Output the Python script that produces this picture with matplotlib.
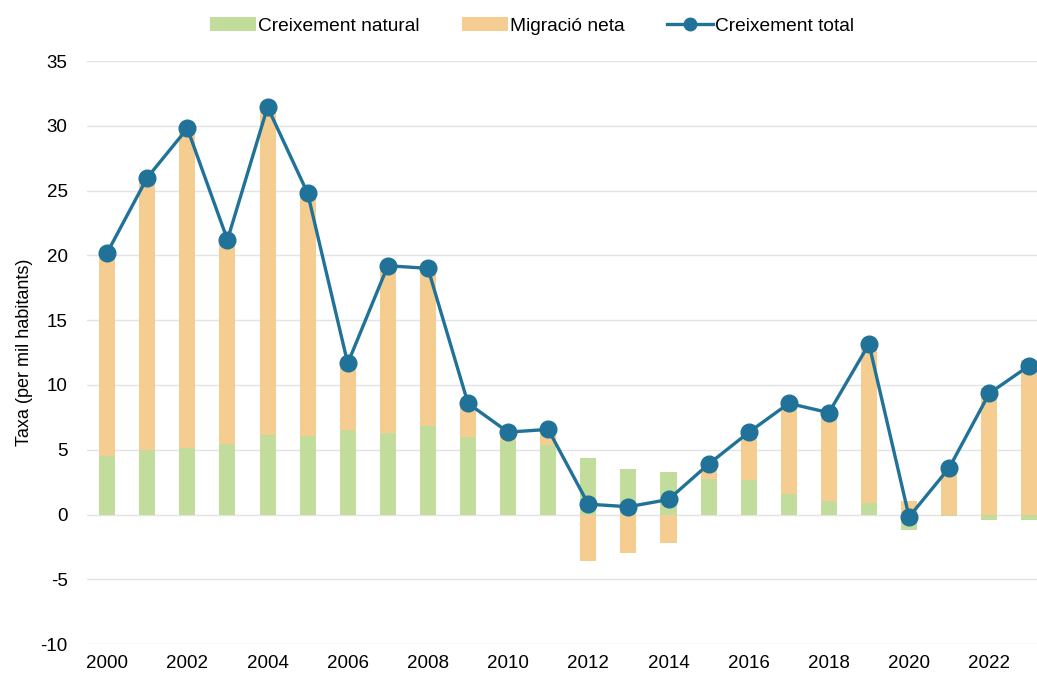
import numpy as np
import matplotlib.pyplot as plt

plt.rcParams['font.family'] = ['Liberation Sans', 'DejaVu Sans']
plt.rcParams['axes.unicode_minus'] = False

years = np.arange(2000, 2024)
natural = [4.5, 5.0, 5.15, 5.43, 6.15, 6.07, 6.5, 6.3, 6.82, 5.95, 5.69, 5.38,
           4.35, 3.55, 3.27, 2.75, 2.7, 1.62, 1.03, 0.87, -1.19, -0.1, -0.46, -0.46]
migration = [15.7, 21.0, 24.65, 15.77, 25.3, 18.73, 5.17, 12.9, 12.18, 2.63, 0.67, 1.19,
             -3.58, -2.94, -2.17, 1.14, 3.64, 6.96, 6.83, 12.29, 1.03, 3.7, 9.8, 11.95]
total = [20.2, 26.0, 29.8, 21.2, 31.45, 24.8, 11.67, 19.2, 19.0, 8.58, 6.36, 6.57,
         0.8, 0.6, 1.16, 3.89, 6.34, 8.58, 7.86, 13.16, -0.18, 3.6, 9.35, 11.5]

c_green = '#C1DC9B'
c_orange = '#F5CD91'
c_blue = '#217298'

fig = plt.figure(figsize=(10.37, 6.78), dpi=100)
ax = fig.add_axes([0.084, 0.05, 0.916, 0.86])

nat = np.array(natural)
mig = np.array(migration)
# stack positives on positives and negatives on negatives
mig_bottom = np.where(mig >= 0, np.maximum(nat, 0), np.minimum(nat, 0))

b1 = ax.bar(years, nat, width=0.4, color=c_green, label='Creixement natural', zorder=2)
b2 = ax.bar(years, mig, width=0.4, bottom=mig_bottom, color=c_orange, label='Migració neta', zorder=2)
l1, = ax.plot(years, total, color=c_blue, lw=2.4, marker='o', ms=12, label='Creixement total', zorder=3)

ax.set_ylim(-10, 35)
ax.set_yticks(np.arange(-10, 36, 5))
ax.set_xlim(1999.5, 2023.19)
ax.set_xticks(np.arange(2000, 2023, 2))
ax.grid(axis='y', color='#E3E3E3', lw=1, zorder=0)
ax.set_axisbelow(True)
for s in ax.spines.values():
    s.set_visible(False)
ax.tick_params(length=0, labelsize=13.5, colors='black')
ax.tick_params(axis='y', pad=14)
ax.tick_params(axis='x', pad=8)
ax.set_ylabel('Taxa (per mil habitants)', fontsize=13, labelpad=5)

fig.legend([b1, b2, l1], ['Creixement natural', 'Migració neta', 'Creixement total'],
           loc='upper center', bbox_to_anchor=(0.513, 1.0), ncol=3, frameon=False,
           fontsize=13.8, handlelength=2.4, columnspacing=2.2, handletextpad=0.1,
           markerscale=0.75)

fig.savefig('out.png', dpi=100)
